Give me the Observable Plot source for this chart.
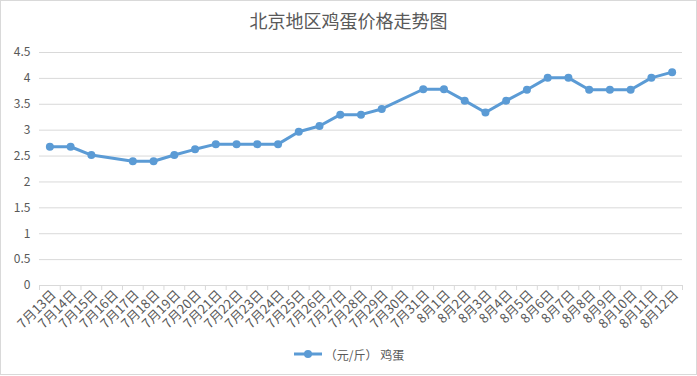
<!DOCTYPE html>
<html>
<head>
<meta charset="utf-8">
<script src="https://cdn.jsdelivr.net/npm/d3@7"></script>
<script src="https://cdn.jsdelivr.net/npm/@observablehq/plot@0.6"></script>
<style>
  html, body { margin: 0; padding: 0; background: #fff; }
  #chart { width: 697px; height: 375px; border: 1px solid #d9d9d9; box-sizing: border-box; font-family: "Noto Sans CJK SC", sans-serif; color: #595959; }
  #title { height: 39px; line-height: 39px; text-align: center; font-size: 18px; color: #595959; }
  #legend { height: 28px; display: flex; align-items: center; justify-content: center; font-size: 12px; color: #595959; }
  #legend svg { margin-right: 2px; }
</style>
</head>
<body>
<div id="chart">
  <div id="title">北京地区鸡蛋价格走势图</div>
  <div id="plot"></div>
  <div id="legend"></div>
</div>
<script>
// All category labels on the axis
const categories = [
  "7月13日","7月14日","7月15日","7月16日","7月17日","7月18日","7月19日","7月20日",
  "7月21日","7月22日","7月23日","7月24日","7月25日","7月26日","7月27日","7月28日",
  "7月29日","7月30日","7月31日","8月1日","8月2日","8月3日","8月4日","8月5日",
  "8月6日","8月7日","8月8日","8月9日","8月10日","8月11日","8月12日"
];
// Dates that have a price observation
const dates = [
  "7月13日","7月14日","7月15日","7月17日","7月18日","7月19日","7月20日",
  "7月21日","7月22日","7月23日","7月24日","7月25日","7月26日","7月27日","7月28日",
  "7月29日","7月31日","8月1日","8月2日","8月3日","8月4日","8月5日",
  "8月6日","8月7日","8月8日","8月9日","8月10日","8月11日","8月12日"
];
const prices = [
  2.68, 2.68, 2.52, 2.40, 2.40, 2.52, 2.63,
  2.73, 2.73, 2.73, 2.73, 2.97, 3.08, 3.30, 3.30,
  3.41, 3.79, 3.79, 3.57, 3.34, 3.57, 3.78,
  4.01, 4.01, 3.78, 3.78, 3.78, 4.01, 4.12
];
const yTicks = [0, 0.5, 1, 1.5, 2, 2.5, 3, 3.5, 4, 4.5];
const seriesName = "（元/斤） 鸡蛋";

const data = dates.map((d, i) => ({date: d, price: prices[i]}));

const W = 695, mL = 38, mR = 14;
const step = (W - mL - mR) / categories.length;
const color = "#5B9BD5";
const textColor = "#595959";

const chart = Plot.plot({
  width: W,
  height: 300,
  marginLeft: mL,
  marginRight: mR,
  marginTop: 12,
  marginBottom: 55,
  style: {fontFamily: "'Noto Sans CJK SC', sans-serif", fontSize: "12px", color: textColor, background: "#fff"},
  x: {type: "band", domain: categories, padding: 0, round: false, label: null},
  y: {domain: [0, 4.5], label: null},
  marks: [
    Plot.gridY(yTicks, {stroke: "#d9d9d9", strokeOpacity: 1}),
    Plot.ruleY([0], {stroke: "#d9d9d9"}),
    Plot.ruleX(categories, {x: d => d, y1: 0, y2: 0, insetBottom: -5, dx: -step / 2, stroke: "#d9d9d9"}),
    Plot.ruleX([categories[categories.length - 1]], {x: d => d, y1: 0, y2: 0, insetBottom: -5, dx: step / 2, stroke: "#d9d9d9"}),
    Plot.axisY(yTicks, {tickSize: 0, tickPadding: 9, tickFormat: d => String(d), fill: textColor, fontSize: 12, label: null}),
    Plot.axisX({tickSize: 0, tickPadding: 7, dx: 4, tickRotate: -45, fill: textColor, fontSize: 13, label: null}),
    Plot.line(data, {x: "date", y: "price", stroke: color, strokeWidth: 3, strokeLinejoin: "round", strokeLinecap: "round"}),
    Plot.dot(data, {x: "date", y: "price", r: 4, fill: color, stroke: "none"})
  ]
});
document.getElementById("plot").appendChild(chart);

// Legend
const leg = document.getElementById("legend");
leg.innerHTML = `<svg width="30" height="12"><line x1="1" y1="6" x2="29" y2="6" stroke="${color}" stroke-width="3"/><circle cx="15" cy="6" r="4" fill="${color}"/></svg><span>${seriesName}</span>`;
</script>
</body>
</html>
